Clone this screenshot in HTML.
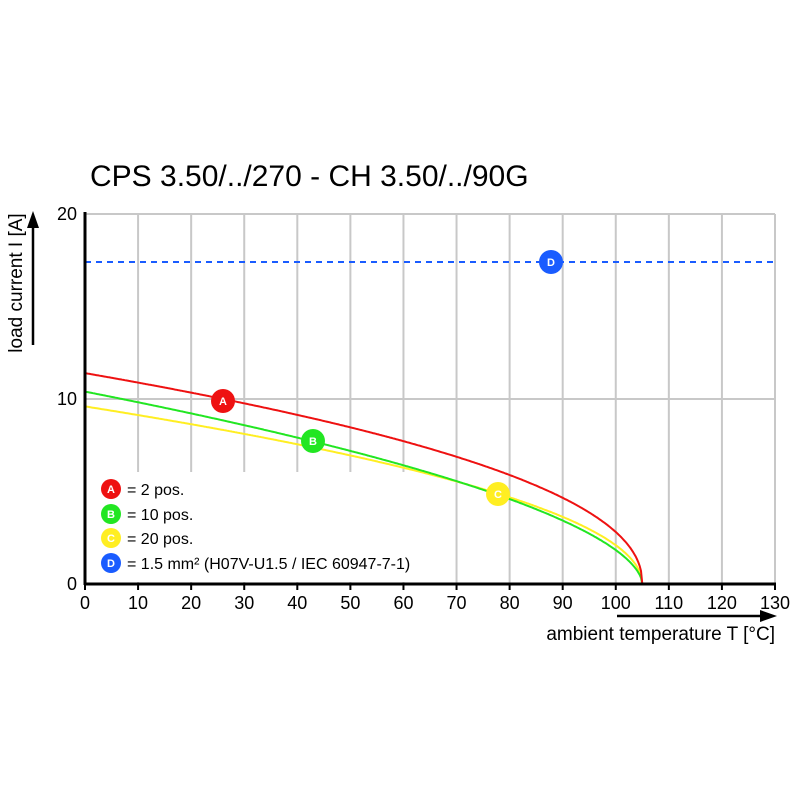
<!DOCTYPE html>
<html><head><style>body{margin:0;background:#fff}svg{display:block}</style></head>
<body>
<svg id="s" width="800" height="800" xmlns="http://www.w3.org/2000/svg" font-family="Liberation Sans, sans-serif">
<rect width="800" height="800" fill="#fff"/>
<text x="90" y="186" font-size="30" fill="#000">CPS 3.50/../270 - CH 3.50/../90G</text>
<g id="grid" stroke="#c8c8c8" stroke-width="2"></g>
<line x1="85" y1="399" x2="775" y2="399" stroke="#c8c8c8" stroke-width="2"/>
<line x1="85" y1="214" x2="775" y2="214" stroke="#c8c8c8" stroke-width="2"/>
<rect x="87" y="472" width="330" height="110" fill="#fff"/>
<line x1="85" y1="262" x2="775" y2="262" stroke="#1a5cff" stroke-width="2" stroke-dasharray="6,5"/>
<g id="curves" fill="none" stroke-width="2"></g>
<line x1="85" y1="212" x2="85" y2="585" stroke="#000" stroke-width="3"/>
<line x1="84" y1="584" x2="776" y2="584" stroke="#000" stroke-width="3"/>
<g id="ticks" stroke="#000" stroke-width="2"></g>
<g id="xl" font-size="18" text-anchor="middle"></g>
<g font-size="18" text-anchor="end"><text x="77" y="220">20</text><text x="77" y="405">10</text><text x="77" y="590">0</text></g>
<line x1="33" y1="345" x2="33" y2="225" stroke="#000" stroke-width="2.5"/>
<polygon points="33,211 27,228 39,228" fill="#000"/>
<text transform="translate(22,283) rotate(-90)" font-size="19" text-anchor="middle">load current I [A]</text>
<line x1="617" y1="616" x2="762" y2="616" stroke="#000" stroke-width="2.5"/>
<polygon points="777,616 760,610 760,622" fill="#000"/>
<text x="775" y="640" font-size="19" text-anchor="end">ambient temperature T [°C]</text>
<g id="mk" font-size="11" font-weight="bold" text-anchor="middle" fill="#fff"></g>
<g font-size="16">
<text x="127" y="495">= 2 pos.</text>
<text x="127" y="520">= 10 pos.</text>
<text x="127" y="544">= 20 pos.</text>
<text x="127" y="569">= 1.5 mm² (H07V-U1.5 / IEC 60947-7-1)</text>
</g>
</svg>
<script>
var ns="http://www.w3.org/2000/svg";
function X(t){return 85+t*690/130}function Y(i){return 584-i*18.5}
function el(p,tag,a,txt){var e=document.createElementNS(ns,tag);for(var k in a)e.setAttribute(k,a[k]);if(txt)e.textContent=txt;document.getElementById(p).appendChild(e);return e}
for(var t=10;t<=130;t+=10){el('grid','line',{x1:X(t),y1:214,x2:X(t),y2:584});}
for(var t=0;t<=130;t+=10){el('ticks','line',{x1:X(t),y1:584,x2:X(t),y2:590});el('xl','text',{x:X(t),y:609},String(t));}
var cs=[[9.6,0.50,'#ffee22'],[10.4,0.57,'#22e622'],[11.4,0.46,'#ee1111']];
cs.forEach(function(c){var d='';for(var t=0;t<=105;t+=0.25){var i=c[0]*Math.pow((105-t)/105,c[1]);d+=(t?'L':'M')+X(t).toFixed(1)+','+Y(i).toFixed(1);}el('curves','path',{d:d,stroke:c[2]});});
var m=[[223,401,'#ee1111','A',12],[313,441,'#22e622','B',12],[498,494,'#ffee22','C',12],[551,262,'#1a5cff','D',12],
[111,489,'#ee1111','A',10],[111,514,'#22e622','B',10],[111,538,'#ffee22','C',10],[111,563,'#1a5cff','D',10]];
m.forEach(function(a){el('mk','circle',{cx:a[0],cy:a[1],r:a[4],fill:a[2]});el('mk','text',{x:a[0],y:a[1]+4},a[3]);});
</script>
</body></html>
